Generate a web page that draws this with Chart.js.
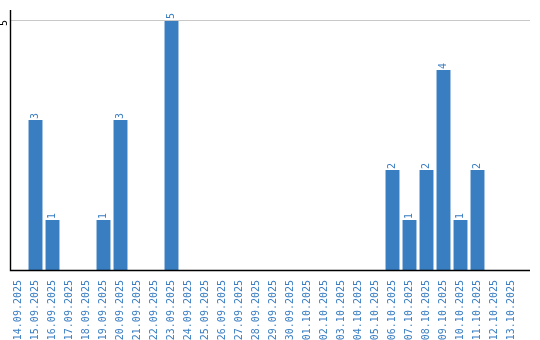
<!DOCTYPE html>
<html>
<head>
<meta charset="utf-8">
<script src="https://cdn.jsdelivr.net/npm/chart.js@4"></script>
<style>
  body { margin: 0; background: #fff; }
  #wrap { width: 540px; height: 340px; }
</style>
</head>
<body>
<div id="wrap"><canvas id="grafico"></canvas></div>
<script>
const datas = ['14.09.2025','15.09.2025','16.09.2025','17.09.2025','18.09.2025','19.09.2025','20.09.2025','21.09.2025','22.09.2025','23.09.2025','24.09.2025','25.09.2025','26.09.2025','27.09.2025','28.09.2025','29.09.2025','30.09.2025','01.10.2025','02.10.2025','03.10.2025','04.10.2025','05.10.2025','06.10.2025','07.10.2025','08.10.2025','09.10.2025','10.10.2025','11.10.2025','12.10.2025','13.10.2025'];
const valores = [0,3,1,0,0,1,3,0,0,5,0,0,0,0,0,0,0,0,0,0,0,0,2,1,2,4,1,2,0,0];
const ticksY = [5];

const azul = '#3a7ec2';
const fonte = '10px "DejaVu Sans Mono", "Liberation Mono", monospace';

// rotulos, grade e eixo desenhados a partir das escalas do proprio chart
const extras = {
  id: 'extras',
  afterDatasetsDraw(chart) {
    const ctx = chart.ctx;
    const area = chart.chartArea;
    const y = chart.scales.y;
    const fim = chart.width - 10;
    ctx.save();
    // grade
    ctx.strokeStyle = '#c8c8c8';
    ctx.lineWidth = 1;
    ticksY.forEach(v => {
      const py = Math.round(y.getPixelForValue(v)) + 0.5;
      ctx.beginPath();
      ctx.moveTo(area.left, py);
      ctx.lineTo(fim, py);
      ctx.stroke();
    });
    // eixos
    ctx.strokeStyle = '#000';
    ctx.lineWidth = 1.4;
    ctx.beginPath();
    ctx.moveTo(area.left + 0.5, area.top - 10);
    ctx.lineTo(area.left + 0.5, area.bottom + 0.5);
    ctx.lineTo(fim, area.bottom + 0.5);
    ctx.stroke();
    // ticks do eixo y
    ctx.font = fonte;
    ctx.fillStyle = '#000';
    ctx.textAlign = 'center';
    ctx.textBaseline = 'middle';
    ticksY.forEach(v => {
      ctx.save();
      ctx.translate(4, y.getPixelForValue(v) + 3);
      ctx.rotate(-Math.PI / 2);
      ctx.fillText(String(v), 0, 0);
      ctx.restore();
    });
    // valores sobre as barras
    ctx.fillStyle = azul;
    ctx.textAlign = 'left';
    const meta = chart.getDatasetMeta(0);
    meta.data.forEach((barra, i) => {
      if (!valores[i]) return;
      ctx.save();
      ctx.translate(barra.x, barra.y - 1);
      ctx.rotate(-Math.PI / 2);
      ctx.fillText(String(valores[i]), 0, 0);
      ctx.restore();
    });
    ctx.restore();
  }
};

new Chart(document.getElementById('grafico'), {
  type: 'bar',
  data: {
    labels: datas,
    datasets: [{
      data: valores,
      backgroundColor: azul,
      barPercentage: 0.82,
      categoryPercentage: 1
    }]
  },
  options: {
    responsive: true,
    maintainAspectRatio: false,
    animation: false,
    layout: { padding: { top: 20, right: 20, left: 0, bottom: 0 } },
    plugins: { legend: { display: false }, tooltip: { enabled: false } },
    scales: {
      x: {
        grid: { display: false },
        border: { display: false },
        ticks: {
          color: azul,
          font: { family: '"DejaVu Sans Mono", "Liberation Mono", monospace', size: 10 },
          minRotation: 90,
          maxRotation: 90,
          autoSkip: false,
          padding: 2
        },
        afterFit(scale) { scale.height = 70; }
      },
      y: {
        min: 0,
        max: 5,
        grid: { display: false },
        border: { display: false },
        ticks: { display: false },
        afterFit(scale) { scale.width = 10; }
      }
    }
  },
  plugins: [extras]
});
</script>
</body>
</html>
